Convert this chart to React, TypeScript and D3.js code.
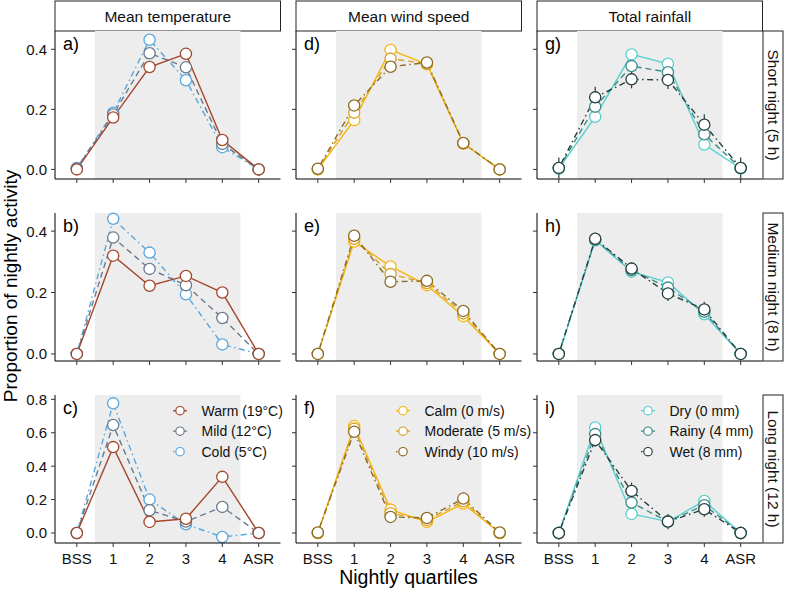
import React from "react";
import * as d3 from "d3";

const quartiles = ["BSS", "1", "2", "3", "4", "ASR"];
const variables = ["Mean temperature", "Mean wind speed", "Total rainfall"];
const nights = ["Short night (5 h)", "Medium night (8 h)", "Long night (12 h)"];
const panelTags = [
  ["a)", "b)", "c)"],
  ["d)", "e)", "f)"],
  ["g)", "h)", "i)"],
];

const tempLevels = ["Warm (19°C)", "Mild (12°C)", "Cold (5°C)"];
const windLevels = ["Calm (0 m/s)", "Moderate (5 m/s)", "Windy (10 m/s)"];
const rainLevels = ["Dry (0 mm)", "Rainy (4 mm)", "Wet (8 mm)"];

// proportion of nightly activity: one row per level, one column per quartile
const tempShort = [
  [0, 0.173, 0.341, 0.385, 0.098, 0],
  [0.002, 0.183, 0.387, 0.34, 0.085, 0],
  [0.005, 0.189, 0.432, 0.297, 0.074, 0],
];
const tempMedium = [
  [0, 0.32, 0.222, 0.254, 0.2, 0],
  [0, 0.379, 0.277, 0.224, 0.117, 0],
  [0, 0.44, 0.33, 0.194, 0.031, 0],
];
const tempLong = [
  [0, 0.514, 0.066, 0.085, 0.336, 0],
  [0, 0.646, 0.136, 0.068, 0.156, 0],
  [0, 0.776, 0.2, 0.052, -0.024, 0],
];

const windShort = [
  [0, 0.164, 0.398, 0.35, 0.086, 0],
  [0.001, 0.189, 0.369, 0.352, 0.087, 0],
  [0.002, 0.213, 0.342, 0.356, 0.088, 0],
];
const windMedium = [
  [0, 0.366, 0.285, 0.224, 0.123, 0],
  [0, 0.375, 0.26, 0.231, 0.132, 0],
  [0, 0.385, 0.235, 0.238, 0.14, 0],
];
const windLong = [
  [0, 0.64, 0.14, 0.066, 0.176, 0],
  [0, 0.625, 0.118, 0.078, 0.19, 0],
  [0.003, 0.606, 0.096, 0.09, 0.206, 0.003],
];

const rainShort = [
  [0.003, 0.175, 0.383, 0.352, 0.083, 0.003],
  [0.004, 0.209, 0.344, 0.324, 0.117, 0.004],
  [0.005, 0.24, 0.3, 0.298, 0.149, 0.005],
];
const rainMedium = [
  [0, 0.37, 0.268, 0.233, 0.129, 0],
  [0, 0.372, 0.273, 0.216, 0.137, 0],
  [0, 0.375, 0.278, 0.197, 0.145, 0],
];
const rainLong = [
  [0, 0.632, 0.114, 0.068, 0.192, 0],
  [0, 0.592, 0.182, 0.068, 0.166, 0],
  [0, 0.556, 0.252, 0.068, 0.142, 0],
];

// half-widths of the error bars (temperature bars are too short to show)
const tempErr = [
  [0, 0, 0, 0, 0, 0],
  [0, 0, 0, 0, 0, 0],
  [0, 0, 0, 0, 0, 0],
];
const windShortErr = [
  [0.006, 0.008, 0.008, 0.008, 0.006, 0.005],
  [0.008, 0.01, 0.01, 0.01, 0.008, 0.007],
  [0.012, 0.015, 0.015, 0.015, 0.012, 0.01],
];
const windMediumErr = [
  [0.005, 0.008, 0.008, 0.008, 0.006, 0.005],
  [0.007, 0.01, 0.01, 0.01, 0.008, 0.006],
  [0.01, 0.014, 0.014, 0.012, 0.012, 0.01],
];
const windLongErr = [
  [0.01, 0.015, 0.015, 0.012, 0.015, 0.01],
  [0.015, 0.02, 0.02, 0.015, 0.025, 0.015],
  [0.02, 0.03, 0.03, 0.02, 0.035, 0.025],
];
const rainShortErr = [
  [0.01, 0.01, 0.01, 0.01, 0.01, 0.01],
  [0.02, 0.02, 0.02, 0.02, 0.02, 0.02],
  [0.035, 0.035, 0.03, 0.03, 0.035, 0.035],
];
const rainMediumErr = [
  [0.005, 0.008, 0.008, 0.01, 0.01, 0.005],
  [0.01, 0.012, 0.012, 0.015, 0.015, 0.01],
  [0.015, 0.02, 0.02, 0.025, 0.025, 0.015],
];
const rainLongErr = [
  [0.02, 0.02, 0.02, 0.02, 0.02, 0.02],
  [0.03, 0.03, 0.035, 0.03, 0.03, 0.03],
  [0.04, 0.04, 0.05, 0.045, 0.045, 0.04],
];

const values = [
  [tempShort, tempMedium, tempLong],
  [windShort, windMedium, windLong],
  [rainShort, rainMedium, rainLong],
];
const errors = [
  [tempErr, tempErr, tempErr],
  [windShortErr, windMediumErr, windLongErr],
  [rainShortErr, rainMediumErr, rainLongErr],
];
const levels = [tempLevels, windLevels, rainLevels];

const colors = [
  ["#a4472b", "#6a7b8e", "#5aa7dd"],
  ["#f6b60f", "#d8a025", "#8c6b23"],
  ["#5bcfd0", "#3c8b87", "#27403f"],
];
const dashes = ["none", "6,4", "1.5,3.5,6,3.5"];
// temperature levels are layered coldest first, the others in listed order
const drawOrder = [
  [2, 1, 0],
  [0, 1, 2],
  [0, 1, 2],
];

const rowDomains = [
  [-0.032, 0.461],
  [-0.023, 0.459],
  [-0.06, 0.826],
];
const rowTicks = [
  [0, 0.2, 0.4],
  [0, 0.2, 0.4],
  [0, 0.2, 0.4, 0.6, 0.8],
];

const W = 794;
const H = 591;
const colLeft = [55, 296, 537];
const colWidth = 225.5;
const rowTop = [31, 213, 395];
const rowHeight = 148;
const legendKeyX = [125, 107, 111];
const font = "'Liberation Sans', Arial, Helvetica, sans-serif";
const fmt = d3.format(".1f");

export default function App() {
  const panels = [];
  for (let c = 0; c < 3; c++) {
    for (let r = 0; r < 3; r++) {
      const left = colLeft[c];
      const top = rowTop[r];
      const bottom = top + rowHeight;
      const x = d3
        .scalePoint<string>()
        .domain(quartiles)
        .range([left, left + colWidth])
        .padding(0.6);
      const y = d3.scaleLinear().domain(rowDomains[r]).range([bottom, top]);
      const step = x.step();
      const line = d3
        .line<number>()
        .x((_, i) => x(quartiles[i]) as number)
        .y((d) => y(d));
      const series = values[c][r];
      const errs = errors[c][r];
      const order = drawOrder[c];

      panels.push(
        <g key={`p-${c}-${r}`}>
          {/* night-time quartiles band */}
          <rect
            x={(x("BSS") as number) + step / 2}
            y={top}
            width={(x("4") as number) - (x("BSS") as number)}
            height={rowHeight}
            fill="#ededed"
          />
          {order.map((s) => (
            <path
              key={`l-${s}`}
              d={line(series[s]) || ""}
              fill="none"
              stroke={colors[c][s]}
              strokeWidth={1.4}
              strokeDasharray={dashes[s]}
            />
          ))}
          {order.map((s) =>
            series[s].map((v, i) =>
              errs[s][i] > 0 ? (
                <line
                  key={`e-${s}-${i}`}
                  x1={x(quartiles[i])}
                  x2={x(quartiles[i])}
                  y1={y(v - errs[s][i])}
                  y2={y(v + errs[s][i])}
                  stroke={colors[c][s]}
                  strokeWidth={1.2}
                />
              ) : null
            )
          )}
          {order.map((s) =>
            series[s].map((v, i) => (
              <circle
                key={`c-${s}-${i}`}
                cx={x(quartiles[i])}
                cy={y(v)}
                r={5.6}
                fill="#fff"
                stroke={colors[c][s]}
                strokeWidth={1.3}
              />
            ))
          )}
          {/* axes */}
          <line x1={left} x2={left + colWidth} y1={bottom} y2={bottom} stroke="#000" strokeWidth={1} />
          <line x1={left} x2={left} y1={top} y2={bottom} stroke="#000" strokeWidth={1} />
          {quartiles.map((q) => (
            <g key={`xt-${q}`}>
              <line x1={x(q)} x2={x(q)} y1={bottom} y2={bottom + 4} stroke="#333" />
              {r === 2 && (
                <text
                  x={x(q)}
                  y={bottom + 20.5}
                  textAnchor="middle"
                  fontSize={15}
                  fill="#111"
                >
                  {q}
                </text>
              )}
            </g>
          ))}
          {rowTicks[r].map((t) => (
            <g key={`yt-${t}`}>
              <line x1={left - 4} x2={left} y1={y(t)} y2={y(t)} stroke="#333" />
              {c === 0 && (
                <text
                  x={left - 8}
                  y={y(t)}
                  textAnchor="end"
                  dominantBaseline="central"
                  fontSize={15}
                  fill="#111"
                >
                  {fmt(t)}
                </text>
              )}
            </g>
          ))}
          <text x={left + 8} y={top + 19} fontSize={18} fill="#000">
            {panelTags[c][r]}
          </text>
          {r === 2 &&
            levels[c].map((lab, s) => {
              const kx = left + legendKeyX[c];
              const ky = top + 15.7 + s * 20.5;
              return (
                <g key={`lg-${s}`}>
                  <line
                    x1={kx - 7}
                    x2={kx + 7}
                    y1={ky}
                    y2={ky}
                    stroke={colors[c][s]}
                    strokeWidth={1.3}
                    strokeDasharray={dashes[s]}
                  />
                  <circle cx={kx} cy={ky} r={4.2} fill="#fff" stroke={colors[c][s]} strokeWidth={1.2} />
                  <text x={kx + 21.5} y={ky} dominantBaseline="central" fontSize={14} fill="#111">
                    {lab}
                  </text>
                </g>
              );
            })}
        </g>
      );
    }
  }

  return (
    <svg
      width={W}
      height={H}
      style={{ position: "absolute", left: 0, top: 0, background: "#fff" }}
      fontFamily={font}
    >
      {variables.map((v, c) => (
        <g key={`cs-${c}`}>
          <rect x={colLeft[c]} y={1} width={colWidth} height={30} fill="#fff" stroke="#222" strokeWidth={1} />
          <text x={colLeft[c] + colWidth / 2} y={16} textAnchor="middle" dominantBaseline="central" fontSize={15.5} fill="#111">
            {v}
          </text>
        </g>
      ))}
      {nights.map((n, r) => (
        <g key={`rs-${r}`}>
          <rect x={763} y={rowTop[r]} width={20} height={rowHeight} fill="#fff" stroke="#222" strokeWidth={1} />
          <text
            transform={`translate(773,${rowTop[r] + rowHeight / 2}) rotate(90)`}
            textAnchor="middle"
            dominantBaseline="central"
            fontSize={15.5}
            fill="#111"
          >
            {n}
          </text>
        </g>
      ))}
      {panels}
      <text x={408.5} y={584} textAnchor="middle" fontSize={19.5} fill="#000">
        Nightly quartiles
      </text>
      <text transform="translate(17,286) rotate(-90)" textAnchor="middle" fontSize={19} fill="#000">
        Proportion of nightly activity
      </text>
    </svg>
  );
}
